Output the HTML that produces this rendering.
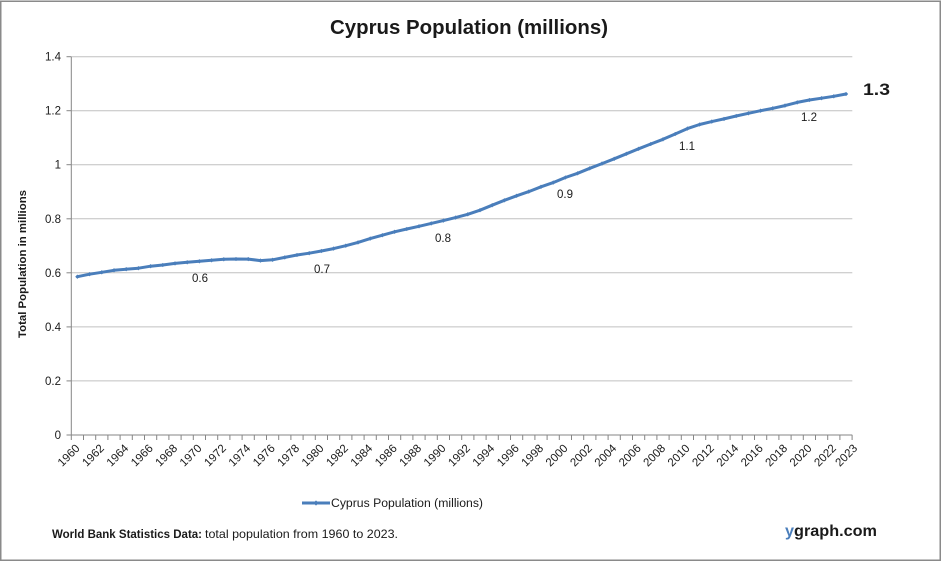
<!DOCTYPE html>
<html>
<head>
<meta charset="utf-8">
<style>
  html, body { margin: 0; padding: 0; background: #ffffff; }
  svg { display: block; }
  text { font-family: "Liberation Sans", "DejaVu Sans", sans-serif; fill: #1a1a1a; }
</style>
</head>
<body>
<svg width="941" height="561" viewBox="0 0 941 561" xmlns="http://www.w3.org/2000/svg">
  <defs>
    <marker id="dm" viewBox="-3 -3 6 6" markerWidth="5" markerHeight="5" markerUnits="userSpaceOnUse" refX="0" refY="0">
      <path d="M0,-2.6 L2.6,0 L0,2.6 L-2.6,0 Z" fill="#4A7EBB"/>
    </marker>
  </defs>
  <rect x="0" y="0" width="941" height="561" fill="#ffffff"/>
  <rect x="0.75" y="1.25" width="939.5" height="559" fill="none" stroke="#8a8a8a" stroke-width="1.5"/>

  <!-- title -->
  <text x="469" y="34" font-size="20" font-weight="bold" text-anchor="middle" textLength="278" lengthAdjust="spacingAndGlyphs">Cyprus Population (millions)</text>

  <!-- gridlines -->
  <g stroke="#c0c0c0" stroke-width="1">
    <line x1="71.3" y1="56.7" x2="852.3" y2="56.7"/>
    <line x1="71.3" y1="110.7" x2="852.3" y2="110.7"/>
    <line x1="71.3" y1="164.7" x2="852.3" y2="164.7"/>
    <line x1="71.3" y1="218.8" x2="852.3" y2="218.8"/>
    <line x1="71.3" y1="272.8" x2="852.3" y2="272.8"/>
    <line x1="71.3" y1="326.9" x2="852.3" y2="326.9"/>
    <line x1="71.3" y1="380.9" x2="852.3" y2="380.9"/>
  </g>

  <!-- axes -->
  <g stroke="#868686" stroke-width="1">
    <line x1="71.3" y1="56.7" x2="71.3" y2="435"/>
    <line x1="71.3" y1="435" x2="852.3" y2="435"/>
    <line x1="66.5" y1="56.7" x2="71.3" y2="56.7"/>
    <line x1="66.5" y1="110.7" x2="71.3" y2="110.7"/>
    <line x1="66.5" y1="164.7" x2="71.3" y2="164.7"/>
    <line x1="66.5" y1="218.8" x2="71.3" y2="218.8"/>
    <line x1="66.5" y1="272.8" x2="71.3" y2="272.8"/>
    <line x1="66.5" y1="326.9" x2="71.3" y2="326.9"/>
    <line x1="66.5" y1="380.9" x2="71.3" y2="380.9"/>
    <line x1="66.5" y1="435" x2="71.3" y2="435"/>
  </g>
  <path stroke="#868686" stroke-width="1" fill="none" d="M71.3,435v5 M83.5,435v5 M95.7,435v5 M107.9,435v5 M120.1,435v5 M132.3,435v5 M144.5,435v5 M156.7,435v5 M168.9,435v5 M181.1,435v5 M193.3,435v5 M205.5,435v5 M217.7,435v5 M229.9,435v5 M242.1,435v5 M254.3,435v5 M266.5,435v5 M278.7,435v5 M290.9,435v5 M303.1,435v5 M315.3,435v5 M327.5,435v5 M339.7,435v5 M351.9,435v5 M364.1,435v5 M376.3,435v5 M388.5,435v5 M400.7,435v5 M412.9,435v5 M425.1,435v5 M437.3,435v5 M449.5,435v5 M461.7,435v5 M473.9,435v5 M486.1,435v5 M498.3,435v5 M510.5,435v5 M522.7,435v5 M534.9,435v5 M547.1,435v5 M559.3,435v5 M571.5,435v5 M583.7,435v5 M595.9,435v5 M608.1,435v5 M620.3,435v5 M632.5,435v5 M644.7,435v5 M656.9,435v5 M669.1,435v5 M681.3,435v5 M693.5,435v5 M705.7,435v5 M717.9,435v5 M730.1,435v5 M742.3,435v5 M754.5,435v5 M766.7,435v5 M778.9,435v5 M791.1,435v5 M803.3,435v5 M815.5,435v5 M827.7,435v5 M839.9,435v5 M852.1,435v5"/>

  <!-- y labels -->
  <g font-size="11.5" text-anchor="end">
    <text x="61" y="60.7">1.4</text>
    <text x="61" y="114.7">1.2</text>
    <text x="61" y="168.7">1</text>
    <text x="61" y="222.8">0.8</text>
    <text x="61" y="276.8">0.6</text>
    <text x="61" y="330.9">0.4</text>
    <text x="61" y="384.9">0.2</text>
    <text x="61" y="439">0</text>
  </g>

  <!-- y axis title -->
  <text transform="translate(26,264) rotate(-90)" font-size="11" font-weight="bold" text-anchor="middle" textLength="148" lengthAdjust="spacingAndGlyphs">Total Population  in millions</text>

  <!-- x labels -->
  <g font-size="11.5" text-anchor="end">
    <text transform="translate(80.4,449) rotate(-45)">1960</text>
    <text transform="translate(104.8,449) rotate(-45)">1962</text>
    <text transform="translate(129.2,449) rotate(-45)">1964</text>
    <text transform="translate(153.6,449) rotate(-45)">1966</text>
    <text transform="translate(178.0,449) rotate(-45)">1968</text>
    <text transform="translate(202.4,449) rotate(-45)">1970</text>
    <text transform="translate(226.8,449) rotate(-45)">1972</text>
    <text transform="translate(251.2,449) rotate(-45)">1974</text>
    <text transform="translate(275.6,449) rotate(-45)">1976</text>
    <text transform="translate(300.0,449) rotate(-45)">1978</text>
    <text transform="translate(324.4,449) rotate(-45)">1980</text>
    <text transform="translate(348.8,449) rotate(-45)">1982</text>
    <text transform="translate(373.2,449) rotate(-45)">1984</text>
    <text transform="translate(397.6,449) rotate(-45)">1986</text>
    <text transform="translate(422.0,449) rotate(-45)">1988</text>
    <text transform="translate(446.4,449) rotate(-45)">1990</text>
    <text transform="translate(470.8,449) rotate(-45)">1992</text>
    <text transform="translate(495.2,449) rotate(-45)">1994</text>
    <text transform="translate(519.6,449) rotate(-45)">1996</text>
    <text transform="translate(544.0,449) rotate(-45)">1998</text>
    <text transform="translate(568.4,449) rotate(-45)">2000</text>
    <text transform="translate(592.8,449) rotate(-45)">2002</text>
    <text transform="translate(617.2,449) rotate(-45)">2004</text>
    <text transform="translate(641.6,449) rotate(-45)">2006</text>
    <text transform="translate(666.0,449) rotate(-45)">2008</text>
    <text transform="translate(690.4,449) rotate(-45)">2010</text>
    <text transform="translate(714.8,449) rotate(-45)">2012</text>
    <text transform="translate(739.2,449) rotate(-45)">2014</text>
    <text transform="translate(763.6,449) rotate(-45)">2016</text>
    <text transform="translate(788.0,449) rotate(-45)">2018</text>
    <text transform="translate(812.4,449) rotate(-45)">2020</text>
    <text transform="translate(836.8,449) rotate(-45)">2022</text>
    <text transform="translate(858.0,449) rotate(-45)">2023</text>
  </g>

  <!-- series -->
  <polyline fill="none" stroke="#4A7EBB" stroke-width="3" stroke-linejoin="round" stroke-linecap="round"
    marker-start="url(#dm)" marker-mid="url(#dm)" marker-end="url(#dm)"
    points="77.4,276.7 89.6,274.2 101.8,272.3 114.0,270.3 126.2,269.2 138.4,268.2 150.6,266.2 162.8,265.0 175.0,263.4 187.2,262.3 199.4,261.3 211.6,260.3 223.8,259.3 236.0,259.0 248.2,259.1 260.4,260.6 272.6,259.8 284.8,257.4 297.0,255.0 309.2,253.2 321.4,251.0 333.6,248.6 345.8,245.7 358.0,242.4 370.2,238.6 382.4,235.2 394.6,231.8 406.8,229.0 419.0,226.3 431.2,223.4 443.4,220.6 455.6,217.6 467.8,214.3 480.0,210.2 492.2,205.2 504.4,200.3 516.6,195.8 528.8,191.6 541.0,186.8 553.2,182.6 565.4,177.5 577.6,173.3 589.8,168.3 602.0,163.6 614.2,158.8 626.4,153.8 638.6,148.8 650.8,144.0 663.0,139.3 675.2,134.0 687.4,128.6 699.6,124.5 711.8,121.6 724.0,118.9 736.2,116.0 748.4,113.3 760.6,110.7 772.8,108.3 785.0,105.6 797.2,102.4 809.4,100.0 821.6,98.2 833.8,96.3 846.0,94.0"/>

  <!-- data labels -->
  <g font-size="11.5" text-anchor="middle">
    <text x="200" y="282">0.6</text>
    <text x="322" y="273">0.7</text>
    <text x="443" y="242">0.8</text>
    <text x="565" y="198">0.9</text>
    <text x="687" y="150">1.1</text>
    <text x="809" y="121">1.2</text>
  </g>
  <text x="863" y="95" font-size="16.5" font-weight="bold" textLength="27" lengthAdjust="spacingAndGlyphs">1.3</text>

  <!-- legend -->
  <line x1="302" y1="503" x2="330" y2="503" stroke="#4A7EBB" stroke-width="3"/>
  <path d="M316,500.4 L318.6,503 L316,505.6 L313.4,503 Z" fill="#4A7EBB"/>
  <text x="331" y="507" font-size="11.5" textLength="152" lengthAdjust="spacingAndGlyphs">Cyprus Population (millions)</text>

  <!-- footer -->
  <text x="52" y="538" font-size="12" font-weight="bold" textLength="150" lengthAdjust="spacingAndGlyphs">World Bank Statistics Data:</text>
  <text x="205" y="538" font-size="12" textLength="193" lengthAdjust="spacingAndGlyphs">total population from 1960 to 2023.</text>
  <text x="785" y="536" font-size="16" font-weight="bold" textLength="92" lengthAdjust="spacingAndGlyphs"><tspan fill="#4A7EBB">y</tspan>graph.com</text>
</svg>
</body>
</html>
